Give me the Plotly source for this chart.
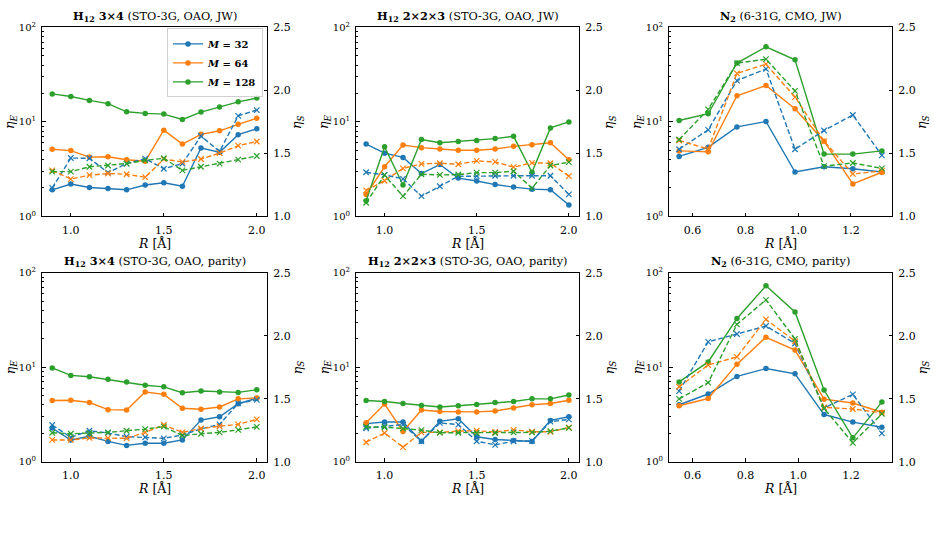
import plotly.graph_objects as go

# ---------------- data ----------------
R_H12 = [0.9, 1.0, 1.1, 1.2, 1.3, 1.4, 1.5, 1.6, 1.7, 1.8, 1.9, 2.0]
R_N2 = [0.549, 0.659, 0.768, 0.878, 0.988, 1.098, 1.207, 1.317]

M_labels = ["<b><i>M</i> = 32</b>", "<b><i>M</i> = 64</b>", "<b><i>M</i> = 128</b>"]

titles = [
    "<b>H<sub>12</sub> 3×4</b> (STO-3G, OAO, JW)",
    "<b>H<sub>12</sub> 2×2×3</b> (STO-3G, OAO, JW)",
    "<b>N<sub>2</sub></b> (6-31G, CMO, JW)",
    "<b>H<sub>12</sub> 3×4</b> (STO-3G, OAO, parity)",
    "<b>H<sub>12</sub> 2×2×3</b> (STO-3G, OAO, parity)",
    "<b>N<sub>2</sub></b> (6-31G, CMO, parity)",
]

# panel 1: H12 3x4 JW
p1_E32 = [1.91, 2.20, 2.02, 1.97, 1.91, 2.15, 2.27, 2.08, 5.29, 4.78, 7.32, 8.44]
p1_E64 = [5.13, 4.97, 4.24, 4.28, 3.98, 3.83, 8.18, 5.82, 7.38, 8.05, 9.42, 10.95]
p1_E128 = [19.8, 18.6, 16.9, 15.6, 12.8, 12.3, 12.1, 10.6, 12.7, 14.4, 16.3, 17.9]
p1_S32 = [1.226, 1.463, 1.461, 1.347, 1.419, 1.458, 1.378, 1.419, 1.638, 1.515, 1.798, 1.844]
p1_S64 = [1.365, 1.296, 1.327, 1.340, 1.334, 1.311, 1.455, 1.432, 1.455, 1.502, 1.561, 1.594]
p1_S128 = [1.355, 1.355, 1.394, 1.404, 1.419, 1.445, 1.461, 1.365, 1.394, 1.419, 1.450, 1.479]

# panel 2: H12 2x2x3 JW
p2_E32 = [5.82, 4.67, 4.21, 2.84, 3.54, 2.54, 2.37, 2.17, 2.04, 1.94, 1.91, 1.32]
p2_E64 = [1.70, 3.35, 5.69, 5.34, 5.17, 5.01, 5.01, 5.17, 5.51, 5.73, 6.01, 3.98]
p2_E128 = [1.46, 5.46, 2.15, 6.50, 6.01, 6.20, 6.35, 6.66, 7.03, 2.93, 8.64, 10.0]
p2_S32 = [1.350, 1.329, 1.298, 1.160, 1.239, 1.319, 1.319, 1.322, 1.322, 1.322, 1.322, 1.175]
p2_S64 = [1.206, 1.283, 1.381, 1.417, 1.422, 1.414, 1.440, 1.432, 1.391, 1.425, 1.422, 1.319]
p2_S128 = [1.108, 1.327, 1.160, 1.334, 1.329, 1.332, 1.347, 1.347, 1.358, 1.224, 1.404, 1.430]

# panel 3: N2 JW
p3_E32 = [4.31, 5.38, 8.85, 10.1, 2.95, 3.35, 3.19, 2.95]
p3_E64 = [4.93, 4.82, 18.9, 24.3, 13.8, 6.25, 2.20, 2.93]
p3_E128 = [10.36, 12.2, 42.0, 62.3, 45.4, 4.56, 4.56, 4.93]
p3_S32 = [1.533, 1.687, 2.078, 2.171, 1.533, 1.682, 1.805, 1.484]
p3_S64 = [1.602, 1.535, 2.135, 2.209, 1.947, 1.597, 1.337, 1.360]
p3_S128 = [1.610, 1.849, 2.217, 2.248, 1.996, 1.399, 1.424, 1.381]

# panel 4: H12 3x4 parity
p4_E32 = [2.27, 1.70, 1.86, 1.64, 1.49, 1.57, 1.57, 1.70, 2.76, 2.99, 4.11, 4.70]
p4_E64 = [4.45, 4.48, 4.24, 3.56, 3.53, 5.47, 5.17, 3.68, 3.59, 3.80, 4.63, 4.74]
p4_E128 = [9.84, 8.20, 7.94, 7.45, 7.00, 6.46, 6.21, 5.38, 5.60, 5.47, 5.42, 5.78]
p4_S32 = [1.292, 1.194, 1.246, 1.228, 1.199, 1.194, 1.186, 1.212, 1.261, 1.297, 1.463, 1.491]
p4_S64 = [1.173, 1.173, 1.189, 1.189, 1.186, 1.233, 1.292, 1.233, 1.264, 1.282, 1.297, 1.336]
p4_S128 = [1.230, 1.222, 1.228, 1.233, 1.246, 1.259, 1.279, 1.207, 1.222, 1.233, 1.253, 1.277]

# panel 5: H12 2x2x3 parity
p5_E32 = [2.53, 2.63, 2.63, 1.65, 2.68, 2.85, 1.84, 1.72, 1.68, 1.64, 2.74, 2.99]
p5_E64 = [2.59, 4.08, 2.09, 3.53, 3.40, 3.37, 3.37, 3.45, 3.71, 4.01, 4.14, 4.48]
p5_E128 = [4.45, 4.35, 4.14, 3.95, 3.80, 3.92, 4.04, 4.24, 4.35, 4.63, 4.63, 5.09]
p5_S32 = [1.266, 1.282, 1.295, 1.163, 1.308, 1.295, 1.163, 1.134, 1.163, 1.166, 1.318, 1.336]
p5_S64 = [1.155, 1.228, 1.116, 1.233, 1.233, 1.243, 1.246, 1.236, 1.253, 1.238, 1.238, 1.272]
p5_S128 = [1.277, 1.274, 1.264, 1.251, 1.230, 1.230, 1.228, 1.228, 1.233, 1.233, 1.243, 1.269]

# panel 6: N2 parity
p6_E32 = [4.01, 5.21, 8.00, 9.69, 8.53, 3.16, 2.63, 2.32]
p6_E64 = [3.92, 4.67, 10.8, 20.8, 15.2, 4.59, 4.18, 3.34]
p6_E128 = [7.00, 11.4, 32.9, 72.8, 38.5, 5.74, 1.79, 4.28]
p6_S32 = [1.561, 1.952, 2.014, 2.078, 1.939, 1.427, 1.535, 1.225]
p6_S64 = [1.595, 1.768, 1.833, 2.130, 1.957, 1.432, 1.419, 1.388]
p6_S128 = [1.499, 1.628, 2.091, 2.285, 1.975, 1.422, 1.150, 1.380]

H_ticks = [1.0, 1.5, 2.0]
N_ticks = [0.6, 0.8, 1.0, 1.2]
E_ticks = [1, 10, 100]
E_ticktext = ["10<sup>0</sup>", "10<sup>1</sup>", "10<sup>2</sup>"]
E_minor = [2, 3, 4, 5, 6, 7, 8, 9, 20, 30, 40, 50, 60, 70, 80, 90]
S_ticks = [1.0, 1.5, 2.0, 2.5]

panels = [
    (R_H12, [p1_E32, p1_E64, p1_E128], [p1_S32, p1_S64, p1_S128]),
    (R_H12, [p2_E32, p2_E64, p2_E128], [p2_S32, p2_S64, p2_S128]),
    (R_N2, [p3_E32, p3_E64, p3_E128], [p3_S32, p3_S64, p3_S128]),
    (R_H12, [p4_E32, p4_E64, p4_E128], [p4_S32, p4_S64, p4_S128]),
    (R_H12, [p5_E32, p5_E64, p5_E128], [p5_S32, p5_S64, p5_S128]),
    (R_N2, [p6_E32, p6_E64, p6_E128], [p6_S32, p6_S64, p6_S128]),
]

# ---------------- style / layout ----------------
W, H = 935, 533
colors = ["#1f77b4", "#ff7f0e", "#2ca02c"]
FONT = "DejaVu Serif"
col_px = [(42, 267), (356, 579), (669, 892)]
row_px = [(21, 215), (273, 467)]

fig = go.Figure()
layout = dict(
    width=W, height=H,
    margin=dict(l=0, r=0, t=0, b=0),
    paper_bgcolor="white", plot_bgcolor="white",
    font=dict(family=FONT, size=11, color="black"),
    showlegend=True,
    legend=dict(
        x=263 / W, y=1 - 22 / H, xanchor="right", yanchor="top",
        bgcolor="rgba(255,255,255,0.8)", bordercolor="#d0d0d0", borderwidth=1,
        font=dict(family=FONT, size=10), itemwidth=30, tracegroupgap=0,
    ),
)
annotations = []

for i, (R, E, S) in enumerate(panels):
    r, c = divmod(i, 3)
    x0, x1 = col_px[c]
    y0, y1 = row_px[r]
    xs = "" if i == 0 else str(i + 1)
    yl = "" if i == 0 else str(2 * i + 1)
    yr = str(2 * i + 2)
    xdom = [x0 / W, x1 / W]
    ydom = [1 - y1 / H, 1 - y0 / H]
    if R is R_N2:
        span = R[-1] - R[0]
        xr = [R[0] - 0.05 * span, R[-1] + 0.05 * span]
        xt = N_ticks
    else:
        span = R_H12[-1] - R_H12[0]
        xr = [R_H12[0] - 0.05 * span, R_H12[-1] + 0.05 * span]
        xt = H_ticks
    axcommon = dict(showline=True, linecolor="black", linewidth=1, ticks="inside",
                    ticklen=3.5, tickwidth=1, tickcolor="black", showgrid=False,
                    zeroline=False, ticklabelstandoff=3)
    tf = dict(family=FONT, size=11, color="black")
    layout["xaxis" + xs] = dict(domain=xdom, anchor="y" + yl, range=xr, tickvals=xt,
                                ticktext=[f"{v:.1f}" for v in xt], mirror=True,
                                tickfont=tf, **axcommon)
    layout["yaxis" + yl] = dict(domain=ydom, anchor="x" + xs, type="log", range=[0, 2],
                                tickvals=E_ticks, ticktext=E_ticktext,
                                tickfont=dict(family=FONT, size=10, color="black"),
                                minor=dict(ticks="inside", ticklen=2, tickcolor="black",
                                           tickvals=E_minor, showgrid=False),
                                **axcommon)
    layout["yaxis" + yr] = dict(domain=ydom, anchor="x" + xs, overlaying="y" + yl,
                                side="right", range=[1.0, 2.5], tickvals=S_ticks,
                                ticktext=[f"{v:.1f}" for v in S_ticks], tickfont=tf,
                                **axcommon)
    for k in range(3):
        fig.add_trace(go.Scatter(
            x=R, y=E[k], xaxis="x" + xs, yaxis="y" + yl, mode="lines+markers",
            line=dict(color=colors[k], width=1.4),
            marker=dict(symbol="circle", size=5.5, color=colors[k]),
            name=M_labels[k], legendgroup=M_labels[k], showlegend=(i == 0),
        ))
        fig.add_trace(go.Scatter(
            x=R, y=S[k], xaxis="x" + xs, yaxis="y" + yr, mode="lines+markers",
            line=dict(color=colors[k], width=1.4, dash="5px,2.5px"),
            marker=dict(symbol="x-thin", size=5.5, color=colors[k],
                        line=dict(color=colors[k], width=1.2)),
            name=M_labels[k], showlegend=False,
        ))
    cx = (x0 + x1) / 2
    annotations.append(dict(text=titles[i], x=cx / W, y=1 - (y0 - 2) / H, xref="paper",
                            yref="paper", xanchor="center", yanchor="bottom",
                            showarrow=False, font=dict(family=FONT, size=11.3)))
    annotations.append(dict(text="<i>R</i> [Å]", x=cx / W, y=1 - (y1 + 18) / H,
                            xref="paper", yref="paper", xanchor="center", yanchor="top",
                            showarrow=False, font=dict(family=FONT, size=12.5)))
    annotations.append(dict(text="<i>η<sub>E</sub></i>", x=(x0 - 31) / W,
                            y=1 - (y0 + y1) / 2 / H, xref="paper", yref="paper",
                            xanchor="center", yanchor="middle", textangle=-90,
                            showarrow=False, font=dict(family=FONT, size=12.5)))
    annotations.append(dict(text="<i>η<sub>S</sub></i>", x=(x1 + 31) / W,
                            y=1 - (y0 + y1) / 2 / H, xref="paper", yref="paper",
                            xanchor="center", yanchor="middle", textangle=-90,
                            showarrow=False, font=dict(family=FONT, size=12.5)))

layout["annotations"] = annotations
fig.update_layout(**layout)
fig.write_html("out.html")
